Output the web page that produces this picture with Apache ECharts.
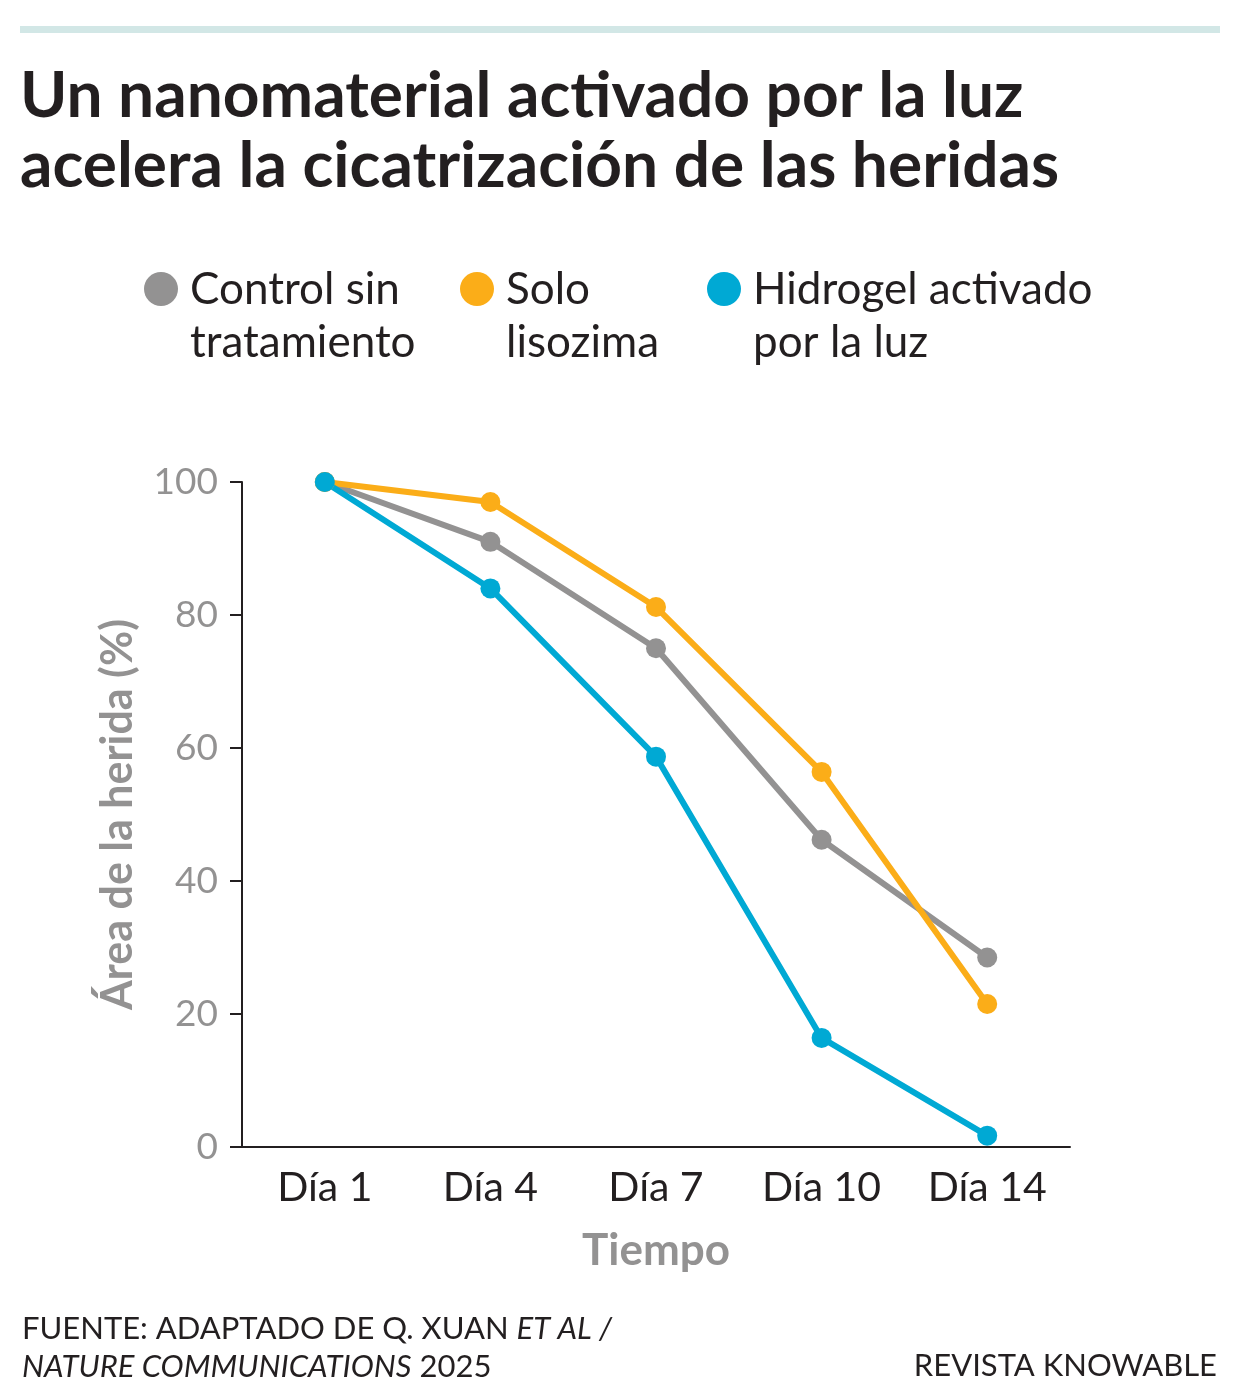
<!DOCTYPE html>
<html>
<head>
<meta charset="utf-8">
<script src="https://cdn.jsdelivr.net/npm/echarts@6/dist/echarts.min.js"></script>
<style>
  html, body { margin: 0; padding: 0; background: #fff; }
  #chart { width: 1240px; height: 1400px; }
</style>
</head>
<body>
<div id="chart"></div>
<script>
const days = ['Día 1', 'Día 4', 'Día 7', 'Día 10', 'Día 14']
const control = [100, 91, 75, 46.2, 28.5]
const lisozima = [100, 97, 81.2, 56.4, 21.5]
const hidrogel = [100, 84, 58.7, 16.4, 1.7]
const yTicks = [0, 20, 40, 60, 80, 100]

const dark = '#231f20'
const grey = '#939292'
const font = 'Lato, "Open Sans", sans-serif'

const seriesDefs = [
  { name: 'Control sin\ntratamiento', data: control, color: '#939292' },
  { name: 'Solo\nlisozima', data: lisozima, color: '#fbad18' },
  { name: 'Hidrogel activado\npor la luz', data: hidrogel, color: '#00a9d4' }
]
const legendX = [161, 477, 724]

const chart = echarts.init(document.getElementById('chart'))

// leyenda a mano: circulo + texto en dos lineas
const legendGraphics = []
seriesDefs.forEach((s, i) => {
  legendGraphics.push({
    type: 'circle',
    shape: { cx: legendX[i], cy: 289, r: 17 },
    style: { fill: s.color }
  })
  legendGraphics.push({
    type: 'text',
    left: legendX[i] + 29,
    top: 263,
    style: { text: s.name, fill: dark, font: '44px ' + font, lineHeight: 53 }
  })
})

const option = {
  animation: false,
  backgroundColor: '#fff',
  textStyle: { fontFamily: font },
  grid: { left: 242, right: 170, top: 482, bottom: 253 },
  graphic: [
    { type: 'rect', shape: { x: 20, y: 26, width: 1200, height: 7 }, style: { fill: '#d2e7e6' } },
    {
      type: 'text', left: 20, top: 61,
      style: {
        text: 'Un nanomaterial activado por la luz\nacelera la cicatrización de las heridas',
        fill: dark, font: 'bold 64px ' + font, lineHeight: 70
      }
    },
    ...legendGraphics,
    {
      type: 'text', left: 22, top: 1310,
      style: {
        text: 'FUENTE: ADAPTADO DE Q. XUAN {i|ET AL /}\n{i|NATURE COMMUNICATIONS} 2025',
        fill: dark, font: '31px ' + font, lineHeight: 38,
        rich: { i: { fontStyle: 'italic', fontSize: 31, fontFamily: font, fill: dark } }
      }
    },
    {
      type: 'text', right: 23, top: 1350,
      style: { text: 'REVISTA KNOWABLE', fill: dark, font: '31px ' + font }
    }
  ],
  xAxis: {
    type: 'category',
    data: days,
    boundaryGap: true,
    name: 'Tiempo',
    nameLocation: 'middle',
    nameGap: 82,
    nameTextStyle: { color: grey, fontSize: 44, fontWeight: 'bold', fontFamily: font },
    axisLine: { lineStyle: { color: dark, width: 2 } },
    axisTick: { alignWithLabel: true, length: 12, lineStyle: { color: dark, width: 2 } },
    axisLabel: { color: dark, fontSize: 41, margin: 20, fontFamily: font }
  },
  yAxis: {
    type: 'value',
    min: 0,
    max: 100,
    interval: 20,
    name: 'Área de la herida (%)',
    nameLocation: 'middle',
    nameGap: 102,
    nameTextStyle: { color: grey, fontSize: 43, fontWeight: 'bold', fontFamily: font },
    splitLine: { show: false },
    axisLine: { show: true, lineStyle: { color: dark, width: 2 } },
    axisTick: { show: true, length: 12, lineStyle: { color: dark, width: 2 } },
    axisLabel: {
      color: grey, fontSize: 37, margin: 24, fontFamily: font,
      formatter: v => (yTicks.includes(v) ? String(v) : '')
    }
  },
  series: seriesDefs.map(s => ({
    name: s.name,
    type: 'line',
    data: s.data,
    color: s.color,
    symbol: 'circle',
    symbolSize: 20,
    lineStyle: { width: 6, color: s.color },
    itemStyle: { color: s.color }
  }))
}

chart.setOption(option)
</script>
</body>
</html>
